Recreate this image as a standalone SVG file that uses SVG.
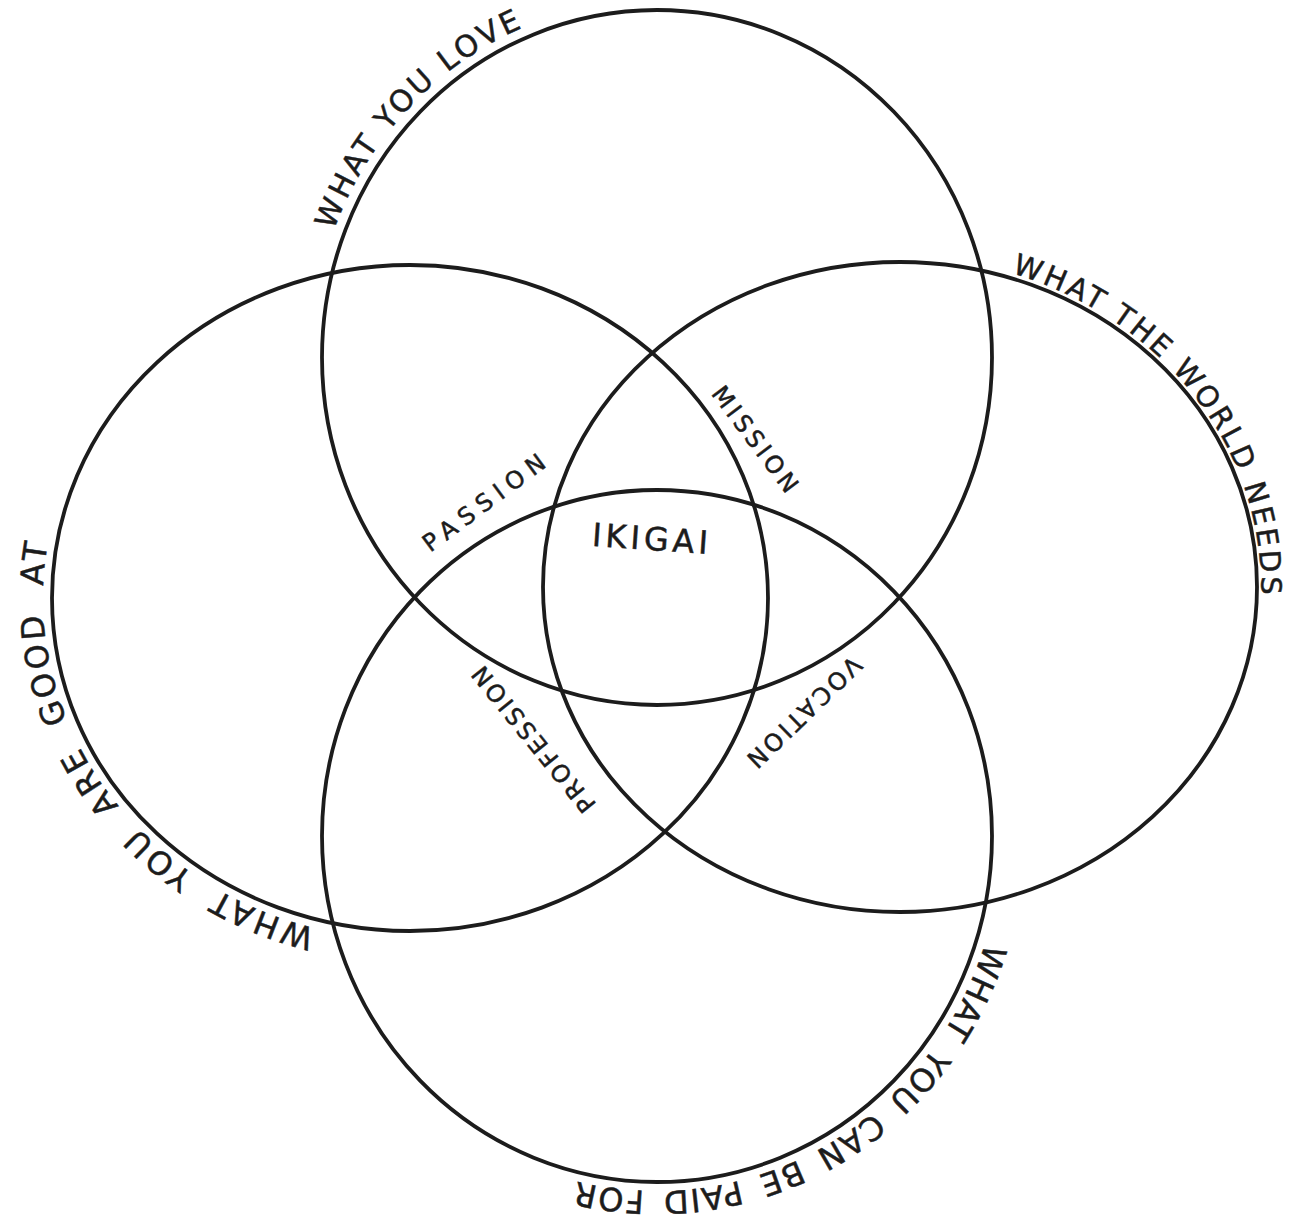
<svg xmlns="http://www.w3.org/2000/svg" width="1289" height="1225" viewBox="0 0 1289 1225">
<style>
.c{fill:none;stroke:#1c1c1c;stroke-width:3.8}
.t{font-family:"DejaVu Sans","Liberation Sans",sans-serif;fill:#1c1c1c;stroke:#1c1c1c;stroke-width:0.5}
.i{font-size:24px}
</style>
<defs>
<path id="pTop" d="M414.5,608.9 A343,355.5 0 1 1 899.5,106.1 A343,355.5 0 1 1 414.5,608.9"/>
<path id="pRight" d="M692.9,316.7 A361,330 0 1 1 1107.1,857.3 A361,330 0 1 1 692.9,316.7"/>
<path id="pLeft" d="M599.0,891.2 A367,342 0 1 1 221.0,304.8 A367,342 0 1 1 599.0,891.2"/>
<path id="pBottom" d="M957.9,663.9 A344,355 0 1 1 356.1,1008.1 A344,355 0 1 1 957.9,663.9"/>
</defs>
<rect width="1289" height="1225" fill="#ffffff"/>
<g id="love">
<ellipse class="c" cx="657" cy="357.5" rx="335" ry="347.5"/>
<text class="t" font-size="30" letter-spacing="3" text-anchor="middle"><textPath href="#pTop" startOffset="25%">WHAT YOU LOVE</textPath></text>
</g>
<g id="world-needs">
<ellipse class="c" cx="900" cy="587" rx="357" ry="325"/>
<text class="t" font-size="29" letter-spacing="3" text-anchor="middle"><textPath href="#pRight" startOffset="25.4%">WHAT THE WORLD NEEDS</textPath></text>
</g>
<g id="good-at">
<ellipse class="c" cx="410" cy="598" rx="358" ry="333"/>
<text class="t" font-size="32" letter-spacing="3.3" word-spacing="12" text-anchor="middle"><textPath href="#pLeft" startOffset="24.8%">WHAT YOU ARE GOOD AT</textPath></text>
</g>
<g id="paid-for">
<ellipse class="c" cx="657" cy="836" rx="335" ry="346"/>
<text class="t" font-size="32" letter-spacing="1.3" word-spacing="6" text-anchor="middle"><textPath href="#pBottom" startOffset="25%">WHAT YOU CAN BE PAID FOR</textPath></text>
</g>
<g id="ikigai">
<text class="t" font-size="32" letter-spacing="4" text-anchor="middle" dominant-baseline="central" transform="translate(652,539) rotate(4)">IKIGAI</text>
</g>
<g id="passion">
<text class="t i" letter-spacing="7" text-anchor="middle" dominant-baseline="central" transform="translate(487,501) rotate(-36.5)">PASSION</text>
</g>
<g id="mission">
<text class="t i" letter-spacing="4" text-anchor="middle" dominant-baseline="central" transform="translate(756,441) rotate(53)">MISSION</text>
</g>
<g id="profession">
<text class="t i" letter-spacing="3" text-anchor="middle" dominant-baseline="central" transform="translate(533,738) rotate(-129)">PROFESSION</text>
</g>
<g id="vocation">
<text class="t i" letter-spacing="3.3" text-anchor="middle" dominant-baseline="central" transform="translate(803,713) rotate(136)">VOCATION</text>
</g>
<g id="connectors"></g>
</svg>
